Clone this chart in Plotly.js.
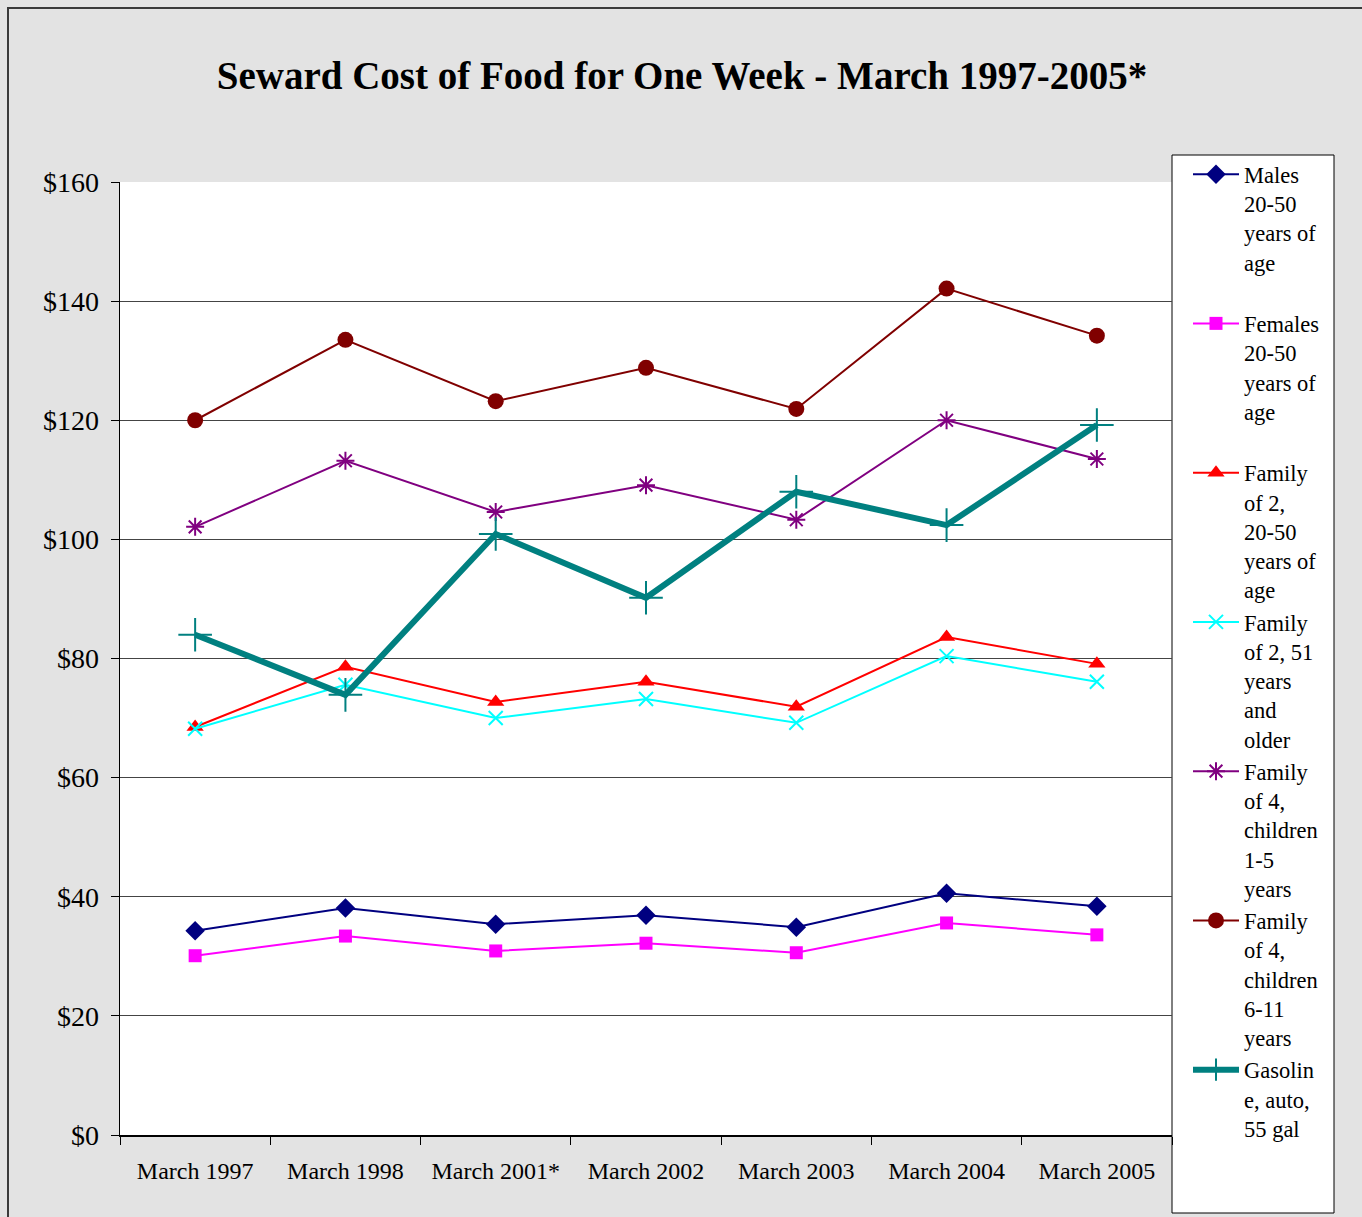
<!DOCTYPE html>
<html>
<head>
<meta charset="utf-8">
<script src="https://cdn.plot.ly/plotly-3.0.1.min.js"></script>
<style>html,body{margin:0;padding:0;background:#e3e3e3;}#chart{width:1362px;height:1217px;}</style>
</head>
<body>
<div id="chart"></div>
<script>
const categories = ["March 1997","March 1998","March 2001*","March 2002","March 2003","March 2004","March 2005"];
const males = [34.3, 38.1, 35.4, 36.9, 34.9, 40.6, 38.4];
const females = [30.1, 33.4, 30.9, 32.2, 30.6, 35.6, 33.6];
const family2Young = [68.5, 78.6, 72.7, 76.1, 71.9, 83.6, 79.1];
const family2Old = [68.2, 75.6, 70.0, 73.2, 69.2, 80.4, 76.1];
const family4Small = [102.1, 113.2, 104.6, 109.1, 103.3, 120.0, 113.5];
const family4Older = [120.0, 133.5, 123.2, 128.8, 121.9, 142.1, 134.2];
const gasoline = [84.0, 73.9, 100.9, 90.2, 108.0, 102.4, 119.2];
const seriesNames = [
  "Males<br>20-50<br>years of<br>age<br> ",
  "Females<br>20-50<br>years of<br>age<br> ",
  "Family<br>of 2,<br>20-50<br>years of<br>age",
  "Family<br>of 2, 51<br>years<br>and<br>older",
  "Family<br>of 4,<br>children<br>1-5<br>years",
  "Family<br>of 4,<br>children<br>6-11<br>years",
  "Gasolin<br>e, auto,<br>55 gal"
];

const W = 1362, H = 1217;
const mL = 120, mR = W - 1172, mT = 182, mB = H - 1135;
const pw = W - mL - mR, ph = H - mT - mB;
const px = x => (x - mL) / pw;
const py = y => (H - mB - y) / ph;

function tr(y, name, color, symbol, size, width, mlw) {
  return {
    x: categories, y: y, name: name, type: 'scatter', mode: 'lines+markers',
    line: {color: color, width: width},
    marker: {symbol: symbol, size: size, color: color, line: {color: color, width: mlw}},
    hoverinfo: 'x+y'
  };
}

const data = [
  tr(males, seriesNames[0], '#000080', 'diamond', 15, 2, 0),
  tr(females, seriesNames[1], '#FF00FF', 'square', 13, 2, 0),
  tr(family2Young, seriesNames[2], '#FF0000', 'triangle-up', 15, 2, 0),
  tr(family2Old, seriesNames[3], '#00FFFF', 'x-thin-open', 14, 2, 2),
  tr(family4Small, seriesNames[4], '#800080', 'asterisk-open', 15, 2, 2),
  tr(family4Older, seriesNames[5], '#800000', 'circle', 16, 2, 0),
  tr(gasoline, seriesNames[6], '#008080', 'cross-thin-open', 24, 6, 2)
];

const font = "'Liberation Serif', 'Times New Roman', Times, serif";
const layout = {
  width: W, height: H,
  paper_bgcolor: '#e3e3e3',
  plot_bgcolor: '#ffffff',
  margin: {l: mL, r: mR, t: mT, b: mB, pad: 0},
  font: {family: font, color: '#000', size: 22},
  title: {text: '<b>Seward Cost of Food for One Week - March 1997-2005*</b>', font: {family: font, size: 39, color: '#000'}, x: px(682), xref: 'paper', xanchor: 'center', y: 1 - 75 / H, yanchor: 'middle'},
  xaxis: {
    type: 'category', range: [-0.5, 6.5], tickson: 'boundaries',
    ticks: 'outside', ticklen: 8, tickcolor: '#000', tickwidth: 1,
    showline: true, linecolor: '#000', linewidth: 1.5, showgrid: false, zeroline: false,
    tickfont: {family: font, size: 24}, ticklabelstandoff: 14, fixedrange: true
  },
  yaxis: {
    range: [0, 160], dtick: 20, tickprefix: '$',
    ticks: 'outside', ticklen: 8, tickcolor: '#000', tickwidth: 1,
    showline: true, linecolor: '#000', linewidth: 1.5,
    showgrid: true, gridcolor: '#444444', gridwidth: 1, zeroline: false,
    tickfont: {family: font, size: 28}, ticklabelstandoff: 6, fixedrange: true
  },
  showlegend: true,
  legend: {
    x: px(1188), y: py(153), xanchor: 'left', yanchor: 'top',
    bgcolor: 'rgba(0,0,0,0)', borderwidth: 0,
    font: {family: font, size: 22.5, color: '#000'},
    valign: 'top', tracegroupgap: 0, itemwidth: 46, maxheight: 1100
  },
  shapes: [
    {type: 'rect', xref: 'paper', yref: 'paper', x0: px(8), x1: px(1370), y0: py(1225), y1: py(8), line: {color: '#3a3a3a', width: 2}, fillcolor: 'rgba(0,0,0,0)', layer: 'below'},
    {type: 'rect', xref: 'paper', yref: 'paper', x0: px(1172), x1: px(1334), y0: py(1213), y1: py(155), line: {color: '#000', width: 1}, fillcolor: '#ffffff', layer: 'below'}
  ]
};

Plotly.newPlot('chart', data, layout, {displayModeBar: false, staticPlot: true});
</script>
</body>
</html>
